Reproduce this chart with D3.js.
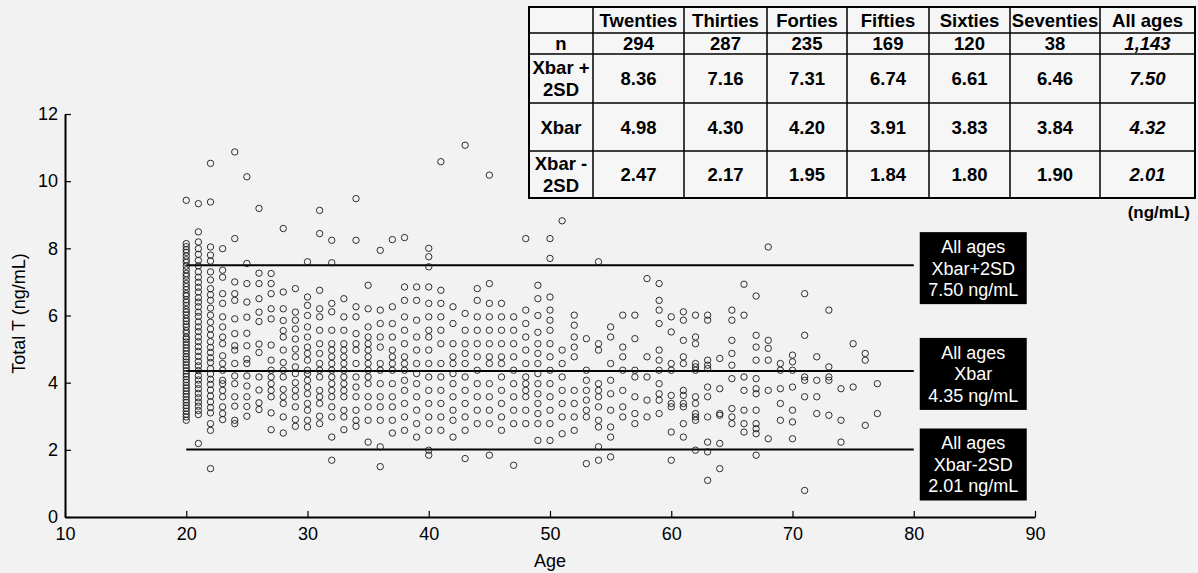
<!DOCTYPE html>
<html>
<head>
<meta charset="utf-8">
<script src="https://cdn.jsdelivr.net/npm/d3@7"></script>
<style>
  html, body { margin: 0; padding: 0; background: #f2f2f2; }
  svg { display: block; font-family: "Liberation Sans", Arial, Helvetica, sans-serif; }
</style>
</head>
<body>
<svg id="chart" width="1198" height="573"></svg>
<script>
// ---- data ----
const decades = ["Twenties", "Thirties", "Forties", "Fifties", "Sixties", "Seventies", "All ages"];
const nValues = ["294", "287", "235", "169", "120", "38", "1,143"];
const plus2SD = ["8.36", "7.16", "7.31", "6.74", "6.61", "6.46", "7.50"];
const meanValues = ["4.98", "4.30", "4.20", "3.91", "3.83", "3.84", "4.32"];
const minus2SD = ["2.47", "2.17", "1.95", "1.84", "1.80", "1.90", "2.01"];

const refValues = [7.50, 4.35, 2.01];
const refNames = ["Xbar+2SD", "Xbar", "Xbar-2SD"];
const refTexts = ["7.50 ng/mL", "4.35 ng/mL", "2.01 ng/mL"];

const xTicks = [10, 20, 30, 40, 50, 60, 70, 80, 90];
const yTicks = [0, 2, 4, 6, 8, 10, 12];

// one list of Total T values (ng/mL) per year of age
const ages = [20, 21, 22, 23, 24, 25, 26, 27, 28, 29,
              30, 31, 32, 33, 34, 35, 36, 37, 38, 39,
              40, 41, 42, 43, 44, 45, 46, 47, 48, 49,
              50, 51, 52, 53, 54, 55, 56, 57, 58, 59,
              60, 61, 62, 63, 64, 65, 66, 67, 68, 69,
              70, 71, 72, 73, 74, 75, 76, 77];
const totalT = [
  [9.43,8.14,8.05,7.96,7.88,7.77,7.66,7.58,7.47,7.36,7.25,7.17,7.06,6.95,6.86,6.77,6.65,6.58,6.47,6.39,6.3,6.18,6.1,6.02,5.91,5.83,5.74,5.66,5.55,5.47,5.36,5.3,5.21,5.12,5.03,4.95,4.86,4.77,4.7,4.61,4.52,4.44,4.35,4.26,4.18,4.09,4.01,3.92,3.84,3.75,3.66,3.58,3.49,3.41,3.32,3.24,3.15,3.06,2.98,2.88],
  [9.33,8.49,8.19,7.99,7.82,7.64,7.48,7.3,7.14,6.99,6.84,6.7,6.53,6.4,6.26,6.1,5.97,5.81,5.66,5.52,5.36,5.22,5.07,4.93,4.78,4.63,4.5,4.36,4.21,4.08,3.95,3.82,3.68,3.55,3.42,3.3,3.17,3.05,2.19],
  [10.53,9.38,8.04,7.8,7.62,7.3,7.06,6.8,6.62,6.45,6.22,6.01,5.8,5.6,5.42,5.22,5.05,4.9,4.74,4.6,4.42,4.26,4.1,3.95,3.78,3.6,3.43,3.26,3.1,2.78,2.58,1.44],
  [7.99,7.35,7.14,6.65,6.36,5.96,5.66,5.36,5.16,4.8,4.57,4.37,4.07,3.97,3.77,3.58,3.28,3.08,2.9],
  [10.87,8.29,7.0,6.65,6.45,5.9,5.46,5.1,4.97,4.57,4.2,3.97,3.58,3.3,2.88,2.78],
  [10.13,7.55,6.95,6.4,5.95,5.47,5.1,4.7,4.57,4.2,3.9,3.58,3.29,3.0],
  [9.19,7.26,6.95,6.5,6.1,5.82,5.15,4.9,4.17,3.78,3.4,3.2],
  [7.25,6.95,6.65,6.2,5.9,5.12,4.67,4.37,4.17,3.97,3.77,3.58,3.1,2.6],
  [8.59,6.7,6.2,5.85,5.55,5.36,4.97,4.6,4.37,4.17,3.8,3.58,3.38,2.98,2.5],
  [6.8,6.1,5.86,5.6,5.3,5.0,4.77,4.47,4.27,4.0,3.78,3.58,3.28,2.9,2.7],
  [7.6,6.55,6.3,6.0,5.66,5.36,5.06,4.87,4.67,4.37,4.27,4.07,3.87,3.67,3.38,3.18,2.88,2.68],
  [9.13,8.44,6.75,6.2,5.96,5.56,5.16,4.87,4.57,4.37,4.17,3.77,3.58,3.38,3.0,2.78],
  [8.24,7.57,6.36,6.11,5.56,5.16,4.97,4.77,4.57,4.37,4.17,3.97,3.77,3.58,3.28,2.98,2.38,1.69],
  [6.5,5.96,5.56,5.16,4.97,4.77,4.57,4.37,4.17,3.97,3.77,3.58,3.18,2.98,2.6],
  [9.48,8.24,6.26,5.96,5.46,5.16,4.97,4.57,4.17,3.87,3.58,3.18,2.88,2.7],
  [6.9,6.2,5.66,5.36,5.16,4.97,4.77,4.57,4.37,4.17,3.97,3.58,3.28,2.88,2.23],
  [7.94,6.16,5.76,5.36,5.06,4.57,4.37,3.97,3.58,3.28,2.88,2.09,1.5],
  [8.26,6.26,5.76,5.36,4.97,4.77,4.57,4.37,3.97,3.58,3.28,2.88,2.5],
  [8.32,6.85,6.45,5.96,5.56,5.16,4.77,4.57,4.37,4.07,3.77,3.38,2.98,2.58],
  [6.85,6.45,5.86,5.36,4.97,4.57,4.27,3.97,3.58,3.18,2.78,2.38],
  [8.0,7.75,7.45,6.85,6.36,5.96,5.56,5.36,4.97,4.57,4.17,3.77,3.38,2.98,2.58,1.99,1.84],
  [10.58,6.75,6.36,5.96,5.56,5.16,4.57,4.17,3.77,3.38,2.98,2.58],
  [6.26,5.76,5.16,4.77,4.57,4.27,3.97,3.58,3.18,2.88,2.38],
  [11.07,6.06,5.56,5.16,4.87,4.57,4.17,3.77,3.38,2.98,2.58,1.74],
  [6.8,6.45,5.96,5.56,5.16,4.77,4.37,3.97,3.58,3.18,2.78],
  [10.18,6.95,6.36,5.96,5.56,5.16,4.77,4.57,3.97,3.58,3.18,2.78,1.84],
  [6.36,5.96,5.56,5.16,4.77,4.57,4.17,3.77,3.38,2.98,2.58],
  [5.96,5.56,5.16,4.77,4.37,3.97,3.58,3.18,2.78,1.54],
  [8.29,6.16,5.76,5.36,4.97,4.57,4.17,3.97,3.77,3.58,3.18,2.78],
  [6.9,6.5,6.0,5.5,5.16,4.87,4.57,4.27,3.97,3.67,3.38,3.08,2.78,2.28],
  [8.29,7.7,6.55,6.16,5.86,5.56,5.16,4.77,4.37,3.97,3.58,3.18,2.78,2.28],
  [8.82,4.97,4.57,4.17,3.77,3.38,2.98,2.48],
  [6.01,5.71,5.36,5.06,4.77,3.77,3.38,2.98,2.58],
  [5.31,4.37,4.07,3.77,3.48,3.18,2.98,1.59],
  [7.6,5.16,4.97,3.97,3.77,3.58,3.28,2.88,2.68,2.09,1.69],
  [5.66,5.36,4.57,4.07,3.67,3.18,2.68,2.38,1.79],
  [6.01,5.06,4.77,4.37,3.77,3.28,2.98],
  [6.01,5.31,4.37,4.17,3.58,3.08,2.78],
  [7.1,4.77,4.17,3.48,2.98],
  [6.95,6.45,6.16,5.76,4.97,4.67,4.37,3.97,3.67,3.48,3.08],
  [5.96,5.51,4.57,4.37,3.62,3.38,3.28,2.53,1.69],
  [6.11,5.86,5.26,4.77,4.57,3.77,3.62,3.38,3.28,2.78,2.38],
  [6.01,5.36,5.16,4.57,4.47,4.37,3.58,3.38,3.08,2.98,2.88,1.99],
  [6.01,5.86,4.67,4.52,4.42,3.87,3.58,2.98,2.23,1.94,1.09],
  [4.72,3.82,3.08,3.03,2.19,1.44],
  [6.16,5.86,5.26,4.87,4.52,4.12,3.23,2.98,2.78],
  [6.93,6.01,4.17,3.77,3.18,2.78,2.53],
  [6.58,5.41,5.06,4.67,4.12,3.82,3.67,3.18,2.78,2.63,2.48,1.84],
  [8.04,5.26,5.02,4.67,3.77,2.33],
  [4.57,4.37,3.82,3.38,2.88],
  [4.82,4.62,4.37,3.87,3.18,2.83,2.33],
  [6.65,5.41,4.17,4.07,3.58,0.79],
  [4.77,4.07,3.58,3.08],
  [6.16,4.47,4.17,4.07,3.03],
  [3.82,2.88,2.23],
  [5.16,3.87],
  [4.87,4.67,2.73],
  [3.97,3.08]
];

// ---- scene ----
const svg = d3.select("#chart");
const x = d3.scaleLinear().domain([10, 90]).range([65, 1035]);
const y = d3.scaleLinear().domain([0, 12]).range([517, 114]);

// flatten to points
const points = [];
ages.forEach((age, i) => {
  totalT[i].forEach(v => points.push({ age: age, value: v }));
});

// reference lines (all ages) from 20 to 80 years
svg.append("g").selectAll("line")
  .data(refValues)
  .enter().append("line")
  .attr("x1", x(20)).attr("x2", x(80))
  .attr("y1", d => y(d)).attr("y2", d => y(d))
  .attr("stroke", "#000").attr("stroke-width", 2);

// scatter
svg.append("g").selectAll("circle")
  .data(points)
  .enter().append("circle")
  .attr("cx", d => x(d.age))
  .attr("cy", d => y(d.value))
  .attr("r", 3.2)
  .attr("fill", "none")
  .attr("stroke", "#1a1a1a")
  .attr("stroke-width", 0.9);

// axes
const xAxis = d3.axisBottom(x).tickValues(xTicks).tickSizeInner(-6).tickSizeOuter(0).tickPadding(10);
const yAxis = d3.axisLeft(y).tickValues(yTicks).tickSizeInner(-6).tickSizeOuter(0).tickPadding(7);

const gx = svg.append("g").attr("transform", `translate(0,${y(0)})`).call(xAxis);
const gy = svg.append("g").attr("transform", `translate(${x(10)},0)`).call(yAxis);
[gx, gy].forEach(g => {
  g.select(".domain").attr("stroke", "#000").attr("stroke-width", 2);
  g.selectAll(".tick line").attr("stroke", "#000").attr("stroke-width", 1.2);
  g.selectAll(".tick text").attr("fill", "#000").style("font-size", "18px")
    .style("font-family", "'Liberation Sans', Arial, sans-serif");
});

svg.append("text")
  .attr("x", x(50)).attr("y", 567)
  .attr("text-anchor", "middle")
  .style("font-size", "18px")
  .text("Age");

svg.append("text")
  .attr("transform", `translate(25,${y(6) - 2}) rotate(-90)`)
  .attr("text-anchor", "middle")
  .style("font-size", "18px")
  .text("Total T (ng/mL)");

// black label boxes on the right
const boxOffsets = [3, 3, 15];  // vertical offset of each box from its line
const labels = svg.append("g").selectAll("g")
  .data(refValues)
  .enter().append("g")
  .attr("transform", (d, i) => `translate(${x(80) + 6},${y(d) - 36 + boxOffsets[i]})`);

labels.append("rect")
  .attr("width", 107).attr("height", 72)
  .attr("fill", "#000");

labels.each(function(d, i) {
  const lines = ["All ages", refNames[i], refTexts[i]];
  d3.select(this).selectAll("text")
    .data(lines)
    .enter().append("text")
    .attr("x", 53.5)
    .attr("y", (t, k) => 21 + k * 21.5)
    .attr("text-anchor", "middle")
    .attr("fill", "#fff")
    .style("font-size", "18px")
    .text(t => t);
});

// ---- statistics table, top right ----
const colEdges = [529, 593, 684, 767, 847, 929, 1010, 1100, 1195];
const rowEdges = [7, 33, 54, 103, 151, 198];
const rowHeads = [[""], ["n"], ["Xbar +", "2SD"], ["Xbar"], ["Xbar -", "2SD"]];
const rowValues = [decades, nValues, plus2SD, meanValues, minus2SD];

const table = svg.append("g");
const cells = [];
rowValues.forEach((vals, r) => {
  cells.push({ r: r, c: 0, lines: rowHeads[r], italic: false });
  vals.forEach((v, c) => cells.push({ r: r, c: c + 1, lines: [v], italic: r > 0 && c === vals.length - 1 }));
});

table.append("rect")
  .attr("x", colEdges[0]).attr("y", rowEdges[0])
  .attr("width", colEdges[colEdges.length - 1] - colEdges[0])
  .attr("height", rowEdges[rowEdges.length - 1] - rowEdges[0])
  .attr("fill", "#f6f6f6");

table.selectAll("text.cell")
  .data(cells)
  .enter().append("text")
  .attr("class", "cell")
  .attr("text-anchor", "middle")
  .style("font-size", "18.5px")
  .style("font-weight", "bold")
  .style("font-style", d => d.italic ? "italic" : "normal")
  .each(function(d) {
    const cx = (colEdges[d.c] + colEdges[d.c + 1]) / 2;
    const cy = (rowEdges[d.r] + rowEdges[d.r + 1]) / 2;
    const n = d.lines.length;
    d3.select(this).selectAll("tspan")
      .data(d.lines)
      .enter().append("tspan")
      .attr("x", cx)
      .attr("y", (t, k) => cy + 6.5 + (k - (n - 1) / 2) * 22)
      .text(t => t);
  });

table.selectAll("line.v")
  .data(colEdges.slice(1, -1))
  .enter().append("line")
  .attr("x1", d => d).attr("x2", d => d)
  .attr("y1", rowEdges[0]).attr("y2", rowEdges[rowEdges.length - 1])
  .attr("stroke", "#000").attr("stroke-width", 1.5);

table.selectAll("line.h")
  .data(rowEdges.slice(1, -1))
  .enter().append("line")
  .attr("x1", colEdges[0]).attr("x2", colEdges[colEdges.length - 1])
  .attr("y1", d => d).attr("y2", d => d)
  .attr("stroke", "#000").attr("stroke-width", 1.5);

table.append("rect")
  .attr("x", colEdges[0]).attr("y", rowEdges[0])
  .attr("width", colEdges[colEdges.length - 1] - colEdges[0])
  .attr("height", rowEdges[rowEdges.length - 1] - rowEdges[0])
  .attr("fill", "none").attr("stroke", "#000").attr("stroke-width", 2);

svg.append("text")
  .attr("x", 1190).attr("y", 218)
  .attr("text-anchor", "end")
  .style("font-size", "17px")
  .style("font-weight", "bold")
  .text("(ng/mL)");
</script>
</body>
</html>
